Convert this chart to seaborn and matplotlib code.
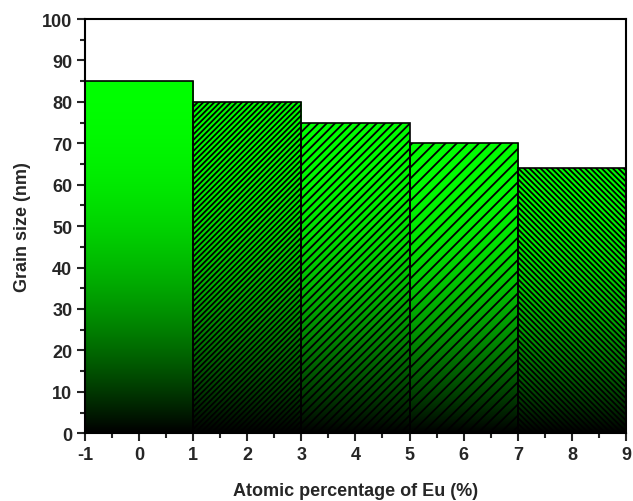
import numpy as np
import pandas as pd
import matplotlib
matplotlib.use("Agg")
import matplotlib.pyplot as plt
from matplotlib.ticker import MultipleLocator
import seaborn as sns

# Grain size vs. Eu doping level
eu_percent = [0, 2, 4, 6, 8]
grain_size = [85, 80, 75, 70, 64]
hatches = ["", "//////", "////", "///", "\\\\\\\\\\\\"]

sns.set_theme(style="ticks")
plt.rcParams["font.family"] = ["Liberation Sans", "DejaVu Sans"]
plt.rcParams["font.weight"] = "bold"
plt.rcParams["axes.unicode_minus"] = False
plt.rcParams["hatch.linewidth"] = 1.3
plt.rcParams["hatch.color"] = "black"

df = pd.DataFrame({"eu": eu_percent, "size": grain_size})

fig = plt.figure(figsize=(6.33, 5.02), dpi=100)
ax = fig.add_axes([0.134, 0.135, 0.855, 0.825])

sns.barplot(data=df, x="eu", y="size", native_scale=True, width=1.0,
            color="none", edgecolor="black", linewidth=1.2, ax=ax)

# vertical gradient in each bar: black at the base, bright green at the top
n = 256
depth = 1 - np.linspace(0, 1, n)          # row 0 = bottom of bar
grad = np.zeros((n, 1, 3))
grad[:, 0, 1] = 1 - depth ** 2
for patch, h in zip(ax.patches, hatches):
    x0, y0 = patch.get_x(), patch.get_y()
    w, hgt = patch.get_width(), patch.get_height()
    img = ax.imshow(grad, extent=[x0, x0 + w, y0, y0 + hgt], origin="lower",
                    aspect="auto", zorder=1, interpolation="bilinear")
    img.set_clip_path(patch)
    patch.set_facecolor("none")
    patch.set_hatch(h)
    patch.set_zorder(2)

ax.set_xlim(-1, 9)
ax.set_ylim(0, 100)
ax.xaxis.set_major_locator(MultipleLocator(1))
ax.xaxis.set_minor_locator(MultipleLocator(0.5))
ax.yaxis.set_major_locator(MultipleLocator(10))
ax.yaxis.set_minor_locator(MultipleLocator(5))
ax.tick_params(which="major", direction="out", length=6, width=1.5,
               labelsize=13, pad=3)
ax.tick_params(which="minor", direction="out", length=3.5, width=1.5)
for lbl in ax.get_xticklabels() + ax.get_yticklabels():
    lbl.set_fontweight("bold")
for s in ax.spines.values():
    s.set_linewidth(1.5)
    s.set_color("black")
    s.set_visible(True)

ax.set_xlabel("Atomic percentage of Eu (%)", fontsize=13, fontweight="bold",
              labelpad=14)
ax.set_ylabel("Grain size (nm)", fontsize=13, fontweight="bold", labelpad=8)

fig.savefig("out.png", dpi=100)
